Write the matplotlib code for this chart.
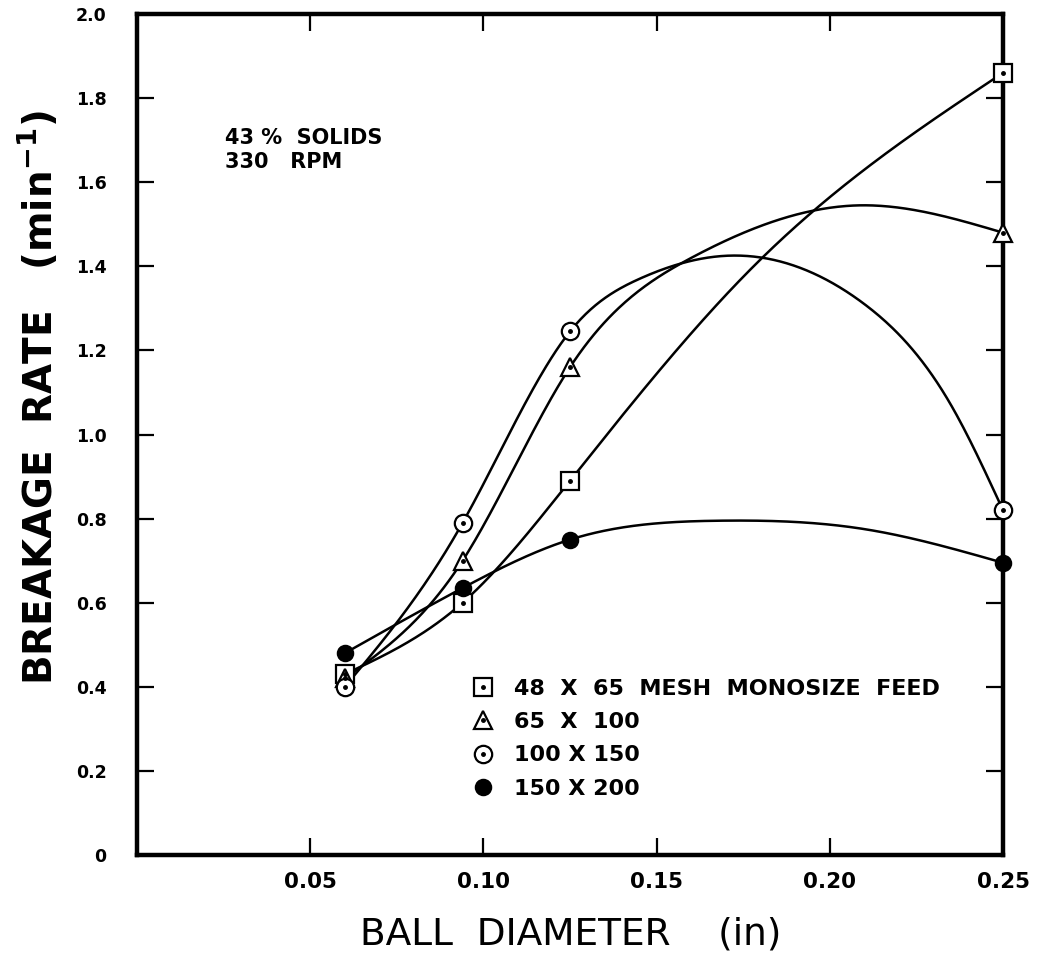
import numpy as np
import matplotlib
matplotlib.use('Agg')
import matplotlib.pyplot as plt
from matplotlib.legend_handler import HandlerTuple

# ball diameters (in) and measured breakage rates (1/min)
ball_diam = [0.06, 0.094, 0.125, 0.25]
rate_48x65 = [0.43, 0.60, 0.89, 1.86]
rate_65x100 = [0.42, 0.70, 1.16, 1.48]
rate_100x150 = [0.40, 0.79, 1.245, 0.82]
rate_150x200 = [0.48, 0.635, 0.75, 0.695]

# hand-faired trend curves (knots along each drawn curve)
curve_x_48x65 = [0.06, 0.094, 0.125, 0.178, 0.25]
curve_y_48x65 = [0.43, 0.60, 0.89, 1.40, 1.86]
curve_x_65x100 = [0.06, 0.094, 0.125, 0.16, 0.209, 0.25]
curve_y_65x100 = [0.42, 0.70, 1.16, 1.42, 1.545, 1.48]
curve_x_100x150 = [0.06, 0.094, 0.125, 0.145, 0.17, 0.21, 0.235, 0.25]
curve_y_100x150 = [0.40, 0.79, 1.245, 1.37, 1.425, 1.31, 1.07, 0.82]
curve_x_150x200 = [0.06, 0.094, 0.125, 0.168, 0.21, 0.25]
curve_y_150x200 = [0.48, 0.635, 0.75, 0.795, 0.775, 0.695]

labels = ['48  X  65  MESH  MONOSIZE  FEED', '65  X  100', '100 X 150', '150 X 200']
xticks = [0.05, 0.10, 0.15, 0.20, 0.25]
yticks = [0, 0.2, 0.4, 0.6, 0.8, 1.0, 1.2, 1.4, 1.6, 1.8, 2.0]


def natural_spline(xk, yk, xq):
    xk = np.asarray(xk, float)
    yk = np.asarray(yk, float)
    n = len(xk)
    h = np.diff(xk)
    A = np.zeros((n, n))
    b = np.zeros(n)
    A[0, 0] = A[-1, -1] = 1.0
    for i in range(1, n - 1):
        A[i, i - 1] = h[i - 1]
        A[i, i] = 2 * (h[i - 1] + h[i])
        A[i, i + 1] = h[i]
        b[i] = 6 * ((yk[i + 1] - yk[i]) / h[i] - (yk[i] - yk[i - 1]) / h[i - 1])
    m = np.linalg.solve(A, b)
    idx = np.clip(np.searchsorted(xk, xq) - 1, 0, n - 2)
    x0, x1 = xk[idx], xk[idx + 1]
    hh = x1 - x0
    t0, t1 = x1 - xq, xq - x0
    return (m[idx] * t0**3 / (6 * hh) + m[idx + 1] * t1**3 / (6 * hh)
            + (yk[idx] / hh - m[idx] * hh / 6) * t0
            + (yk[idx + 1] / hh - m[idx + 1] * hh / 6) * t1)


plt.rcParams['font.family'] = 'DejaVu Sans'
plt.rcParams['font.weight'] = 'bold'

fig = plt.figure(figsize=(10.41, 9.61), dpi=100)
ax = fig.add_axes([137/1041, 1 - 855/961, 866/1041, 841/961])

series = [
    (rate_48x65, curve_x_48x65, curve_y_48x65, 's', 'white', True, 12.5),
    (rate_65x100, curve_x_65x100, curve_y_65x100, '^', 'white', True, 12.5),
    (rate_100x150, curve_x_100x150, curve_y_100x150, 'o', 'white', True, 12.5),
    (rate_150x200, curve_x_150x200, curve_y_150x200, 'o', 'black', False, 11),
]

handles = []
for ys, cx, cy, mk, face, dot, ms in series:
    xfine = np.linspace(cx[0], cx[-1], 400)
    ax.plot(xfine, natural_spline(cx, cy, xfine), color='black', lw=1.8, zorder=2)
    h1, = ax.plot(ball_diam, ys, ls='none', marker=mk, ms=ms, mfc=face, mec='black',
                  mew=1.6, zorder=3, clip_on=False)
    h = h1
    if dot:
        h2, = ax.plot(ball_diam, ys, ls='none', marker='o', ms=2.5, color='black',
                      zorder=4, clip_on=False)
        h = (h1, h2)
    handles.append(h)

ax.set_xlim(0, 0.25)
ax.set_ylim(0, 2.0)
ax.set_xticks(xticks)
ax.set_xticklabels(['0.05', '0.10', '0.15', '0.20', '0.25'])
ax.set_yticks(yticks)
ax.set_yticklabels(['0', '0.2', '0.4', '0.6', '0.8', '1.0', '1.2', '1.4', '1.6', '1.8', '2.0'])
ax.tick_params(axis='both', direction='in', length=12, width=1.6,
               top=True, right=True)
ax.tick_params(axis='x', labelsize=15.5, pad=12)
ax.tick_params(axis='y', labelsize=12.5, pad=22)
for sp in ax.spines.values():
    sp.set_linewidth(3.2)

ax.text(0.102, 0.864, '43 %  SOLIDS\n330   RPM', transform=ax.transAxes,
        fontsize=15, fontweight='bold', va='top', linespacing=1.2)

leg = ax.legend(handles, labels, handler_map={tuple: HandlerTuple(ndivide=1, pad=0)},
                loc='upper left', bbox_to_anchor=(0.387, 0.2095), frameon=False,
                fontsize=16, handlelength=1.0, handletextpad=0.9,
                labelspacing=0.6, borderpad=0, borderaxespad=0)

fig.text(38/1041, 1 - 398/961, 'BREAKAGE  RATE   (min$^{\\mathbf{-1}}$)', rotation=90,
         ha='center', va='center', fontsize=28, fontweight='bold')
fig.text(571/1041, 1 - 935/961, 'BALL  DIAMETER    (in)', ha='center', va='center',
         fontsize=27, fontweight='normal')

fig.savefig('out.png', dpi=100)
